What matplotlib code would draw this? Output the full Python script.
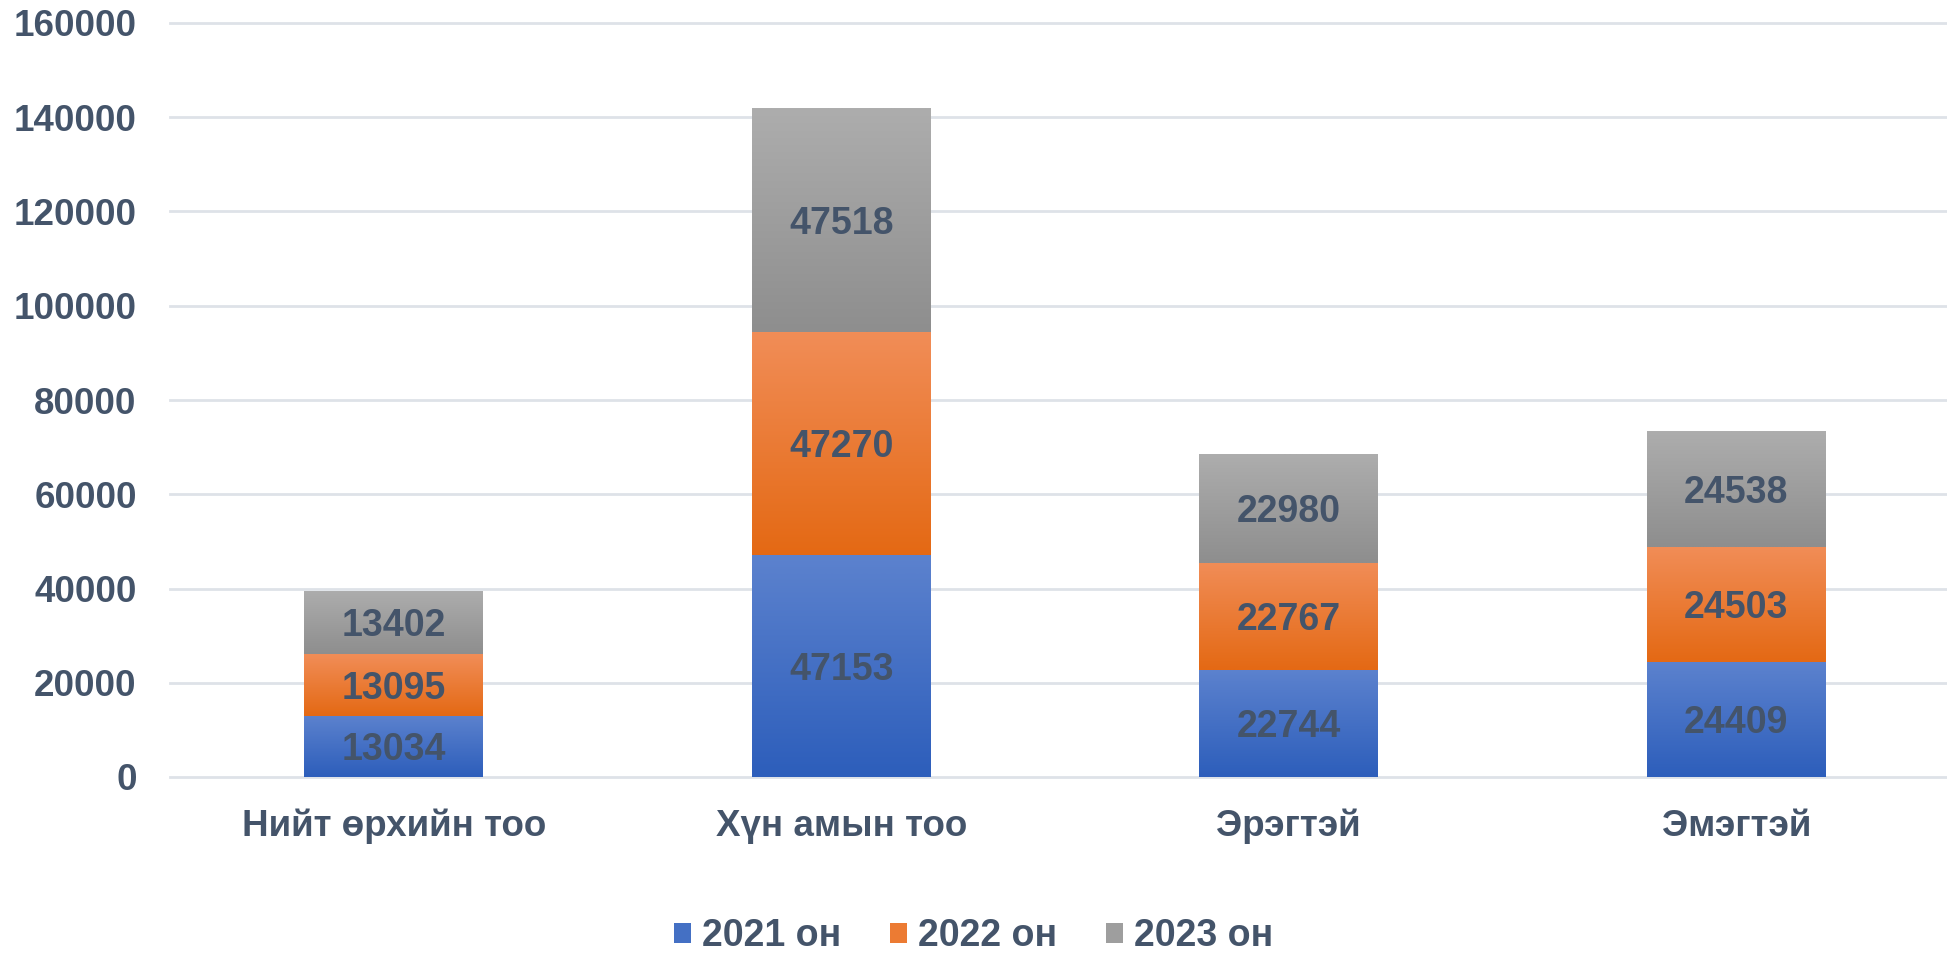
import numpy as np
import matplotlib
matplotlib.use("Agg")
from matplotlib import pyplot as plt
from matplotlib.patches import Patch

plt.rcParams['font.family'] = ['Liberation Sans', 'DejaVu Sans']
plt.rcParams['font.weight'] = 'bold'

categories = ["Нийт өрхийн тоо", "Хүн амын тоо", "Эрэгтэй", "Эмэгтэй"]
years = ["2021 он", "2022 он", "2023 он"]
v2021 = [13034, 47153, 22744, 24409]
v2022 = [13095, 47270, 22767, 24503]
v2023 = [13402, 47518, 22980, 24538]
series = [v2021, v2022, v2023]

# gradient colors (top, bottom) for each year
grad = [("#5C82CE", "#2D5EBB"), ("#F18D57", "#E46914"), ("#ADADAD", "#8E8E8E")]
mid = ["#4470C4", "#EC7B33", "#9E9E9E"]
txt = "#44546A"

fig = plt.figure(figsize=(19.47, 9.56), dpi=100)
ax = fig.add_axes([170/1947, 179/956, 1790/1947, 754/956])

x = np.arange(len(categories))
bottom = np.zeros(len(categories))
for i, vals in enumerate(series):
    bars = ax.bar(x, vals, 0.4, bottom=bottom, color=mid[i], zorder=2)
    top_c = np.array(matplotlib.colors.to_rgb(grad[i][0]))
    bot_c = np.array(matplotlib.colors.to_rgb(grad[i][1]))
    t = np.linspace(0, 1, 100)[:, None]
    img = (top_c * (1 - t) + bot_c * t)[:, None, :]
    for b in bars:
        x0, y0 = b.get_x(), b.get_y()
        im = ax.imshow(img, extent=[x0, x0 + b.get_width(), y0, y0 + b.get_height()],
                       aspect='auto', zorder=3, interpolation='bilinear')
        im.set_clip_path(b)
    for xi, v, bt in zip(x, vals, bottom):
        ax.text(xi, bt + v / 2, str(v), ha='center', va='center_baseline', fontsize=27,
                color=txt, fontweight='bold', zorder=4)
    bottom = bottom + np.array(vals)

ax.set_xlim(-0.5, 3.5)
ax.set_ylim(0, 160000)
ax.set_yticks(range(0, 160001, 20000))
ax.set_xticks(x)
ax.set_xticklabels(categories)
ax.tick_params(axis='y', length=0, pad=24, labelsize=26.5, labelcolor=txt)
ax.tick_params(axis='x', length=0, pad=23, labelsize=26.5, labelcolor=txt)
for s in ax.spines.values():
    s.set_visible(False)
ax.grid(axis='y', color='#DEE2E8', linewidth=2, zorder=0)
ax.set_axisbelow(True)
for gl in ax.get_ygridlines():
    gl.set_clip_on(False)

handles = [Patch(facecolor=mid[i], label=years[i]) for i in range(3)]
fig.legend(handles=handles, loc='center', bbox_to_anchor=(0.5, 20/956), ncol=3,
           frameon=False, fontsize=27, handlelength=0.45, handleheight=0.45,
           handletextpad=0.3, columnspacing=1.3, labelcolor=txt)

fig.savefig("out.png", dpi=100)
